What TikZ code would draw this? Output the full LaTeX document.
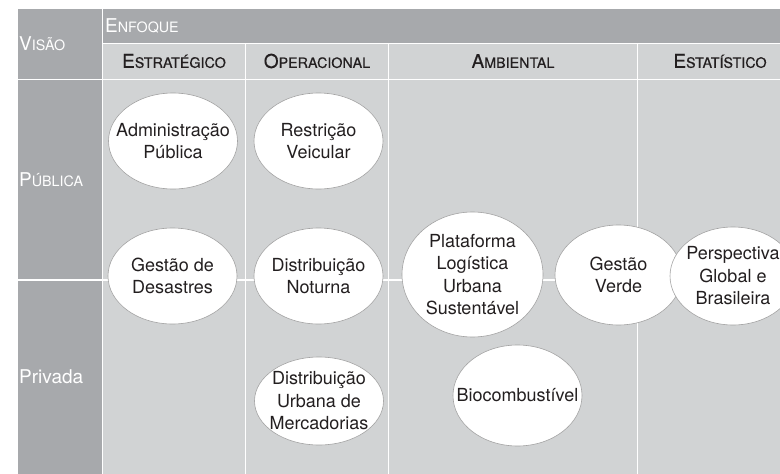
\documentclass[tikz,border=0pt]{standalone}
\usepackage{fontspec}
\setmainfont{TeX Gyre Heros}
\newfontfamily\headfont[FakeBold=0.4]{TeX Gyre Heros}
\usetikzlibrary{shapes.geometric}
\definecolor{darkcell}{HTML}{A7A9AC}
\definecolor{lightcell}{HTML}{D1D3D4}
\definecolor{rim}{HTML}{A3A3A3}
\definecolor{ink}{HTML}{231F20}
% first letter large, rest in small capitals
\newcommand{\smcap}[2]{#1{\fontsize{14.3}{16}\selectfont #2}}
\tikzset{
  rowhead/.style={anchor=west, text=white, inner sep=1pt, font=\fontsize{19}{22}\selectfont},
  colhead/.style={text=ink, inner sep=1pt, font=\headfont\fontsize{19}{22}\selectfont},
  bubble/.style={ellipse, draw=rim, line width=0.6pt, fill=white, text=ink, align=center,
    inner sep=-20pt, minimum width=129pt, minimum height=96pt, font=\fontsize{18}{22.5}\selectfont},
  divider/.style={white, line width=1.6pt}
}
\begin{document}
\begin{tikzpicture}[x=1pt,y=-1pt]
    \useasboundingbox (0,0) rectangle (780,474);
    \begin{scope}
        \clip (0,0) rectangle (780,474);
        % Cells
        \fill[lightcell] (18,9) rectangle (780,474);
        \fill[darkcell] (18,9) rectangle (102.5,474);
        \fill[darkcell] (102.5,9) rectangle (780,43.5);
        % White rules
        \draw[divider] (102.5,9) -- (102.5,474);
        \draw[divider] (102.5,43.5) -- (780,43.5);
        \draw[divider] (18,79.5) -- (780,79.5);
        \draw[divider] (18,280) -- (780,280);
        \draw[divider] (245.5,43.5) -- (245.5,474);
        \draw[divider] (388.5,43.5) -- (388.5,474);
        \draw[divider] (637.5,43.5) -- (637.5,474);
        % Row labels
        \node[rowhead] (visao) at (18,44) {\smcap{V}{ISÃO}};
        \node[rowhead] (publica) at (18,180) {\smcap{P}{ÚBLICA}};
        \node[rowhead] (privada) at (18,377) {Privada};
        % Column labels
        \node[rowhead] (enfoque) at (104,26) {\smcap{E}{NFOQUE}};
        \node[colhead] (estrat) at (174,61) {\smcap{E}{STRATÉGICO}};
        \node[colhead] (operac) at (317,61) {\smcap{O}{PERACIONAL}};
        \node[colhead] (ambient) at (513,61) {\smcap{A}{MBIENTAL}};
        \node[colhead] (estat) at (720,61) {\smcap{E}{STATÍSTICO}};
        % Bubbles
        \node[bubble] (admin) at (173,141) {Administração\\Pública};
        \node[bubble] (restricao) at (318.5,141) {Restrição\\Veicular};
        \node[bubble] (desastres) at (172.5,276) {Gestão de\\Desastres};
        \node[bubble] (noturna) at (318.5,276) {Distribuição\\Noturna};
        \node[bubble, minimum height=88pt] (mercadorias) at (319,401) {Distribuição\\Urbana de\\Mercadorias};
        \node[bubble, minimum width=141pt, minimum height=125pt] (plataforma) at (472.5,274.5) {Plataforma\\Logística\\Urbana\\Sustentável};
        \node[bubble, minimum width=127pt, minimum height=100pt] (verde) at (618.5,275) {Gestão\\Verde};
        \node[bubble, minimum height=101pt] (bio) at (517.5,395.5) {Biocombustível};
        \node[bubble, minimum width=126pt, minimum height=98pt] (perspectiva) at (733,276) {Perspectiva\\Global e\\Brasileira};
    \end{scope}
\end{tikzpicture}
\end{document}
